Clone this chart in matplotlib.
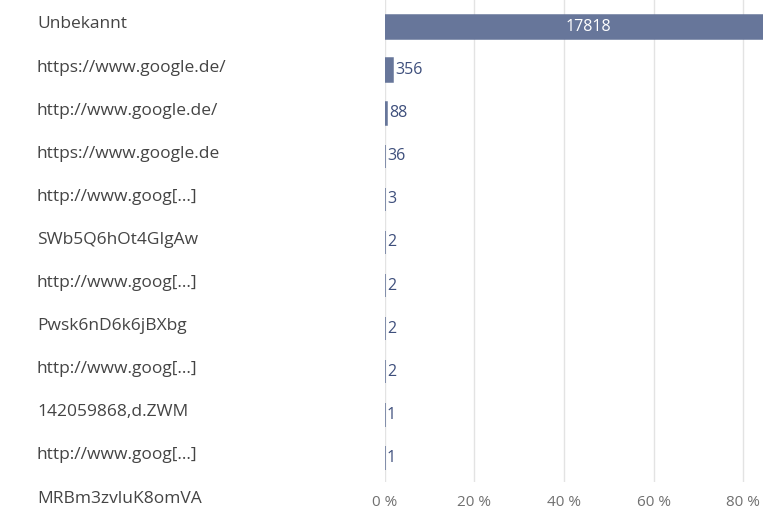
import matplotlib.pyplot as plt
from matplotlib.transforms import blended_transform_factory

# Referrer-Daten (Top-Einträge)
labels = ["Unbekannt", "https://www.google.de/", "http://www.google.de/",
          "https://www.google.de", "http://www.goog[...]", "SWb5Q6hOt4GIgAw",
          "http://www.goog[...]", "Pwsk6nD6k6jBXbg", "http://www.goog[...]",
          "142059868,d.ZWM", "http://www.goog[...]", "MRBm3zvluK8omVA"]
values = [17818, 356, 88, 36, 3, 2, 2, 2, 2, 1, 1, 1]
# Gesamtzahl aller Besuche (inkl. nicht gezeigter Einträge), aus Balkenlänge geschätzt
total = 19620
ticks = [0, 20, 40, 60, 80]

bar_color = "#67769a"
text_color = "#444444"
value_color = "#3e4f7c"

W, H = 763, 512
fig = plt.figure(figsize=(W / 100, H / 100), dpi=100)
plt.rcParams['font.family'] = ['Open Sans', 'DejaVu Sans']

row0, step = 27.0, 43.1
left_px, bottom_px = 384.6, 482.0
ax = fig.add_axes([left_px / W, 1 - bottom_px / H, 1 - left_px / W, bottom_px / H])

pct = [v / total * 100 for v in values]
shown = len(values) - 1  # letzte Zeile wird vom Achsenrand verdeckt
ax.barh(range(shown), pct[:shown], height=0.54, color=bar_color,
        edgecolor=bar_color, linewidth=1.1)

ax.set_xlim(0, (W - left_px) / ((474.3 - left_px) / 20))
ax.set_ylim((bottom_px - row0) / step, -row0 / step)

ax.set_xticks(ticks)
ax.set_xticklabels([f"{t} %" for t in ticks], fontsize=11, color="#707070")
ax.tick_params(axis='x', length=0, pad=9)
ax.set_yticks([])
ax.grid(axis='x', color="#e3e3e3", linewidth=1)
ax.set_axisbelow(True)
for s in ax.spines.values():
    s.set_visible(False)

# Kategorien links
tr = blended_transform_factory(fig.transFigure, ax.transData)
for i, lab in enumerate(labels):
    ax.text(37 / W, i - 0.06, lab, transform=tr, ha='left', va='center',
            fontsize=12.5, color=text_color, clip_on=False)

# Werte an den Balken
for i in range(shown):
    if i == 0:
        ax.text(pct[i] / 2, i, str(values[i]), ha='center', va='center',
                fontsize=11.5, color='white')
    else:
        ax.text(pct[i] + 0.5, i, str(values[i]), ha='left', va='center',
                fontsize=11.5, color=value_color)

fig.savefig("out.png", dpi=100)
